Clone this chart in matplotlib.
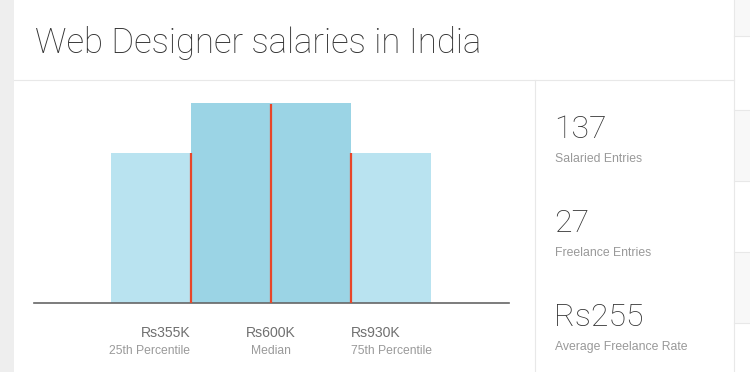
import matplotlib
matplotlib.use("Agg")
import matplotlib.pyplot as plt
from matplotlib.patches import Rectangle

# ---- data ----
title = "Web Designer salaries in India"
bar_positions = [0, 1, 2, 3]
bar_heights = [30, 40, 40, 30]
bar_colors = ["#b9e3f0", "#9bd4e5", "#9bd4e5", "#b9e3f0"]
percentile_values = ["Rs355K", "Rs600K", "Rs930K"]
percentile_names = ["25th Percentile", "Median", "75th Percentile"]
stat_values = ["137", "27", "Rs255"]
stat_names = ["Salaried Entries", "Freelance Entries", "Average Freelance Rate"]

THIN = dict(family=["Roboto", "DejaVu Sans"], weight="light")
SANS = ["Liberation Sans", "DejaVu Sans"]

W, H = 750, 372
fig = plt.figure(figsize=(7.5, 3.72), dpi=100)
fig.patch.set_facecolor("white")

# background / page frame in pixel coordinates
bg = fig.add_axes([0, 0, 1, 1])
bg.set_xlim(0, W)
bg.set_ylim(H, 0)
bg.axis("off")
bg.add_patch(Rectangle((0, 0), 14, H, fc="#eeeeee", ec="none"))
for y0, h in [(0, 36), (110, 71), (252, 71)]:
    bg.add_patch(Rectangle((733.5, y0), 20, h, fc="#f8f8f8", ec="none"))
for y in [36, 110, 181, 252, 323]:
    bg.plot([733.5, 750], [y, y], color="#e8e8e8", lw=0.8)
bg.plot([733.5, 733.5], [0, H], color="#e8e8e8", lw=0.8)
bg.plot([14, 733.5], [79.5, 79.5], color="#e8e8e8", lw=0.8)
bg.plot([535, 535], [79.5, H], color="#e8e8e8", lw=0.8)

bg.text(35, 53, title, fontsize=25, color="#333333", va="baseline", ha="left", **THIN)

# stats panel
for i, (v, n) in enumerate(zip(stat_values, stat_names)):
    base = 138 + i * 94
    bg.text(554, base, v, fontsize=23, color="#333333", va="baseline", ha="left", **THIN)
    bg.text(555, base + 24, n, fontsize=8.8, color="#999999", va="baseline",
            ha="left", family=SANS)

# ---- chart ----
ax = fig.add_axes([34 / W, (H - 302.5) / H, 475 / W, 200 / H])
ax.patch.set_alpha(0)
ax.bar(bar_positions, bar_heights, width=1.0, color=bar_colors, linewidth=0, zorder=1)
ax.set_xlim(-1.4625, 4.475)
ax.set_ylim(0, max(bar_heights))
for s in ["top", "left", "right"]:
    ax.spines[s].set_visible(False)
ax.spines["bottom"].set_color("#666666")
ax.spines["bottom"].set_linewidth(1.2)
ax.set_xticks([])
ax.set_yticks([])

aligns = ["right", "center", "left"]
for i in range(len(bar_heights) - 1):
    xb = (bar_positions[i] + bar_positions[i + 1]) / 2
    top = min(bar_heights[i], bar_heights[i + 1])
    ax.vlines(xb, 0, top * 0.995, color="#e8462a", lw=1.6, zorder=3)
    ax.annotate(percentile_values[i], xy=(xb, 0), xytext=(-0.5 if i == 0 else 0, -24.8),
                textcoords="offset points", ha=aligns[i], va="baseline",
                fontsize=10.1, color="#707070", family=SANS, annotation_clip=False)
    ax.annotate(percentile_names[i], xy=(xb, 0), xytext=(-1 if i == 0 else 0, -37.1),
                textcoords="offset points", ha=aligns[i], va="baseline",
                fontsize=8.7, color="#9a9a9a", family=SANS, annotation_clip=False)

fig.savefig("out.png", dpi=100)
